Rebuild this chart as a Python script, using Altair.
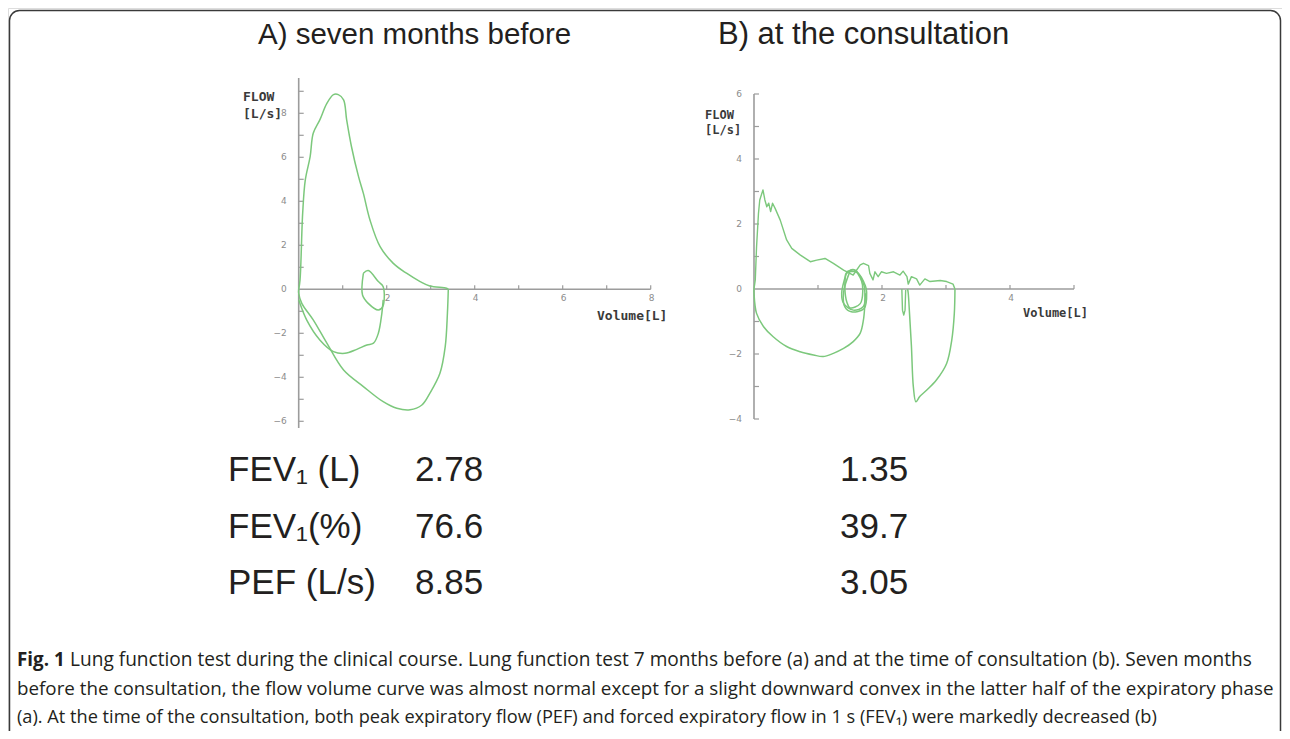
import altair as alt
import pandas as pd

GREEN = "#7cc87c"
AXIS = "#9c9c9c"
TICKLAB = "#8c8c8c"
INK = "#231f20"

# ---------------- Panel A : seven months before ----------------
A_EXP_VOL = [0, 0.03, 0.09, 0.15, 0.26, 0.33, 0.48, 0.64, 0.79, 0.90, 1.02, 1.09, 1.20, 1.36, 1.47, 1.62, 1.85, 2.15, 2.45, 2.76, 2.98, 3.36, 3.40]
A_EXP_FLOW = [0, 0.42, 3.45, 4.97, 6.03, 7.09, 7.70, 8.45, 8.85, 8.85, 8.61, 7.70, 6.48, 5.12, 4.36, 3.15, 1.94, 1.18, 0.73, 0.35, 0.15, 0.05, 0]
A_INSP_VOL = [3.40, 3.38, 3.33, 3.21, 2.98, 2.80, 2.53, 2.23, 1.92, 1.47, 1.02, 0.64, 0.33, 0.07, 0, 0]
A_INSP_FLOW = [0, -1.09, -2.61, -3.82, -4.73, -5.26, -5.48, -5.41, -5.11, -4.42, -3.67, -2.45, -1.39, -0.64, -0.18, 0]
A_PRE_VOL = [0, 0.18, 0.48, 0.79, 1.05, 1.32, 1.55, 1.70, 1.81, 1.89, 1.92]
A_PRE_FLOW = [-0.48, -1.39, -2.30, -2.83, -2.91, -2.73, -2.53, -2.45, -2.00, -1.09, -0.48]
A_TIDAL_VOL = [1.47, 1.58, 1.81, 1.92, 1.91, 1.81, 1.58, 1.45, 1.47]
A_TIDAL_FLOW = [0.73, 0.85, 0.35, 0.12, -0.79, -0.94, -0.64, -0.26, 0.73]

A_XTICKS = [1, 2, 3, 4, 5, 6, 7, 8]
A_XLABELS = [2, 4, 6, 8]
A_YTICKS = [-6, -5, -4, -3, -2, -1, 1, 2, 3, 4, 5, 6, 7, 8, 9]
A_YLABELS = [-6, -4, -2, 0, 2, 4, 6, 8]

# ---------------- Panel B : at the consultation ----------------
B_EXP_VOL = [0, 0.02, 0.04, 0.07, 0.09, 0.14, 0.17, 0.20, 0.23, 0.26, 0.29, 0.33, 0.41, 0.51, 0.59, 0.72, 0.88, 0.98, 1.11, 1.24, 1.40, 1.55,
             1.66, 1.71, 1.79, 1.81, 1.86, 1.89, 1.94, 1.99, 2.07, 2.18, 2.28, 2.33, 2.39, 2.41, 2.46, 2.54, 2.59, 2.67, 2.75, 2.91, 3.01, 3.11, 3.14]
B_EXP_FLOW = [0, 0.28, 1.30, 2.33, 2.74, 3.05, 2.74, 2.53, 2.64, 2.38, 2.64, 2.48, 2.12, 1.51, 1.25, 1.05, 0.84, 0.89, 0.94, 0.79, 0.58, 0.43,
              0.74, 0.79, 0.72, 0.48, 0.28, 0.53, 0.38, 0.53, 0.48, 0.53, 0.43, 0.55, 0.38, 0.15, 0.38, 0.31, 0.12, 0.31, 0.23, 0.26, 0.23, 0.15, 0]
B_INSP_VOL = [3.14, 3.13, 3.09, 3.01, 2.85, 2.70, 2.59, 2.53, 2.49, 2.46, 2.43, 2.41, 2.40]
B_INSP_FLOW = [0, -0.75, -1.57, -2.29, -2.80, -3.11, -3.31, -3.47, -3.01, -1.77, -0.75, -0.13, 0]
B_DIP_VOL = [2.31, 2.32, 2.34, 2.36, 2.37]
B_DIP_FLOW = [0, -0.65, -0.80, -0.65, -0.03]
B_PRE_VOL = [0, 0, 0.04, 0.15, 0.30, 0.51, 0.72, 0.93, 1.08, 1.24, 1.40, 1.55, 1.66, 1.71, 1.73, 1.74]
B_PRE_FLOW = [0, -0.13, -0.75, -1.16, -1.47, -1.77, -1.93, -2.03, -2.08, -1.98, -1.83, -1.62, -1.36, -0.95, -0.54, -0.13]
B_TIDAL1_VOL = [1.45, 1.58, 1.71, 1.73, 1.71, 1.55, 1.40, 1.37, 1.45]
B_TIDAL1_FLOW = [0.53, 0.58, 0.17, -0.03, -0.54, -0.65, -0.44, -0.13, 0.53]
B_TIDAL2_VOL = [1.50, 1.62, 1.74, 1.76, 1.72, 1.52, 1.42, 1.40, 1.50]
B_TIDAL2_FLOW = [0.55, 0.50, 0.10, -0.10, -0.60, -0.70, -0.55, -0.10, 0.55]
B_TIDAL3_VOL = [1.43, 1.55, 1.68, 1.70, 1.66, 1.50, 1.45, 1.42, 1.43]
B_TIDAL3_FLOW = [0.45, 0.60, 0.25, -0.05, -0.45, -0.58, -0.40, 0.00, 0.45]

B_XTICKS = [1, 2, 3, 4, 5]
B_XLABELS = [2, 4]
B_YTICKS = [-4, -3, -2, -1, 1, 2, 3, 4, 5, 6]
B_YLABELS = [-4, -2, 0, 2, 4, 6]

# ---------------- Table ----------------
METRICS = ["FEV\u2081 (L)", "FEV\u2081(%)", "PEF (L/s)"]
BEFORE = [2.78, 76.6, 8.85]
AT_CONSULT = [1.35, 39.7, 3.05]

TITLE_A = "A) seven months before"
TITLE_B = "B) at the consultation"

CAPTION_1 = ("Lung function test during the clinical course. Lung function test 7 months before (a) "
             "and at the time of consultation (b). Seven months")
CAPTION_2 = ("before the consultation, the flow volume curve was almost normal except for a slight downward "
             "convex in the latter half of the expiratory phase")
CAPTION_3 = ("(a). At the time of the consultation, both peak expiratory flow (PEF) and forced expiratory "
             "flow in 1 s (FEV\u2081) were markedly decreased (b)")


def segs(*pairs):
    rows = []
    for s, (vx, vy) in enumerate(pairs):
        for i, (a, b) in enumerate(zip(vx, vy)):
            rows.append({"seg": s, "i": i, "vol": a, "flow": b})
    return pd.DataFrame(rows)


def panel(df_smooth, df_lin, xdom, ydom, xr, yr, xticks, xlabels, yticks, ylabels, fsize):
    xs = alt.Scale(domain=xdom, range=xr, nice=False, zero=False)
    ys = alt.Scale(domain=ydom, range=yr, nice=False, zero=False)
    ax = alt.Chart(pd.DataFrame({"x0": [xdom[0]], "x1": [xdom[1]], "y0": [0]})).mark_rule(
        color=AXIS, strokeWidth=1.6).encode(
        x=alt.X("x0:Q", scale=xs, axis=None), x2="x1:Q", y=alt.Y("y0:Q", scale=ys, axis=None))
    ay = alt.Chart(pd.DataFrame({"x0": [0], "y0": [ydom[0]], "y1": [ydom[1]]})).mark_rule(
        color=AXIS, strokeWidth=1.6).encode(
        x=alt.X("x0:Q", scale=xs, axis=None), y=alt.Y("y0:Q", scale=ys, axis=None), y2="y1:Q")
    xt = alt.Chart(pd.DataFrame({"t": xticks, "z": [0] * len(xticks)})).mark_rule(
        color=AXIS, strokeWidth=1.2, y2Offset=-4).encode(
        x=alt.X("t:Q", scale=xs, axis=None), y=alt.Y("z:Q", scale=ys, axis=None), y2="z:Q")
    yt = alt.Chart(pd.DataFrame({"t": yticks, "z": [0] * len(yticks)})).mark_rule(
        color=AXIS, strokeWidth=1.2, x2Offset=5).encode(
        y=alt.Y("t:Q", scale=ys, axis=None), x=alt.X("z:Q", scale=xs, axis=None), x2="z:Q")
    xl = alt.Chart(pd.DataFrame({"t": xlabels, "z": [0] * len(xlabels)})).mark_text(
        color=TICKLAB, fontSize=fsize, font="DejaVu Sans", dy=9, dx=1, baseline="middle").encode(
        x=alt.X("t:Q", scale=xs, axis=None), y=alt.Y("z:Q", scale=ys, axis=None), text="t:Q")
    yl = alt.Chart(pd.DataFrame({"t": ylabels, "z": [0] * len(ylabels)})).mark_text(
        color=TICKLAB, fontSize=fsize, font="DejaVu Sans", dx=-12, align="right", baseline="middle").encode(
        y=alt.Y("t:Q", scale=ys, axis=None), x=alt.X("z:Q", scale=xs, axis=None), text="t:Q")
    smooth = alt.Chart(df_smooth).mark_line(color=GREEN, strokeWidth=1.5, strokeJoin="round",
                                            interpolate="catmull-rom").encode(
        x=alt.X("vol:Q", scale=xs, axis=None), y=alt.Y("flow:Q", scale=ys, axis=None),
        detail="seg:N", order="i:Q")
    layers = [ax, ay, xt, yt, xl, yl, smooth]
    if df_lin is not None:
        lin = alt.Chart(df_lin).mark_line(color=GREEN, strokeWidth=1.4, strokeJoin="round").encode(
            x=alt.X("vol:Q", scale=xs, axis=None), y=alt.Y("flow:Q", scale=ys, axis=None),
            detail="seg:N", order="i:Q")
        layers.append(lin)
    return alt.layer(*layers)


one = pd.DataFrame({"a": [0]})


def txt(s, x, y, size, font, weight="normal", color=INK, align="left"):
    return alt.Chart(one).mark_text(
        font=font, fontSize=size, fontWeight=weight, color=color, align=align, baseline="middle"
    ).encode(x=alt.value(x), y=alt.value(y), text=alt.value(s))


dfA = segs((A_EXP_VOL, A_EXP_FLOW), (A_INSP_VOL, A_INSP_FLOW), (A_PRE_VOL, A_PRE_FLOW), (A_TIDAL_VOL, A_TIDAL_FLOW))
dfB_smooth = segs((B_INSP_VOL, B_INSP_FLOW), (B_PRE_VOL, B_PRE_FLOW),
                  (B_TIDAL1_VOL, B_TIDAL1_FLOW), (B_TIDAL2_VOL, B_TIDAL2_FLOW), (B_TIDAL3_VOL, B_TIDAL3_FLOW))
dfB_lin = segs((B_EXP_VOL, B_EXP_FLOW), (B_DIP_VOL, B_DIP_FLOW))

panelA = panel(dfA, None, [0, 8], [-6.3, 9.6], [290.7, 642.7], [419.9, 70.1],
               A_XTICKS, A_XLABELS, A_YTICKS, A_YLABELS, 9)
panelB = panel(dfB_smooth, dfB_lin, [0, 5], [-4, 6], [746, 1066], [411, 86],
               B_XTICKS, B_XLABELS, B_YTICKS, B_YLABELS, 9)

# table
tdf = pd.DataFrame({"metric": METRICS, "before": BEFORE, "at": AT_CONSULT})
ty = alt.Scale(type="point", domain=METRICS, range=[462, 575], padding=0)
TFONT = "Liberation Sans, Arial, Helvetica, sans-serif"
TS = 35
tlab = alt.Chart(tdf).mark_text(font=TFONT, fontSize=TS, color=INK, align="left", baseline="middle").encode(
    x=alt.value(220), y=alt.Y("metric:N", scale=ty, axis=None), text="metric:N")
tA = alt.Chart(tdf).mark_text(font=TFONT, fontSize=TS, color=INK, align="left", baseline="middle").encode(
    x=alt.value(407), y=alt.Y("metric:N", scale=ty, axis=None), text="before:Q")
tB = alt.Chart(tdf).mark_text(font=TFONT, fontSize=TS, color=INK, align="left", baseline="middle").encode(
    x=alt.value(832), y=alt.Y("metric:N", scale=ty, axis=None), text="at:Q")
table = alt.layer(tlab, tA, tB)

TITLEFONT = "Liberation Sans, Arial, sans-serif"
MONO = "DejaVu Sans Mono, monospace"
CAP = "Open Sans, Noto Sans, sans-serif"
texts = [
    txt(TITLE_A, 250, 27, 29.5, TITLEFONT),
    txt(TITLE_B, 710, 27, 31, TITLEFONT),
    txt("FLOW", 235, 89, 13, MONO, "bold", "#3a3a3a"),
    txt("[L/s]", 235, 106, 13, MONO, "bold", "#3a3a3a"),
    txt("Volume[L]", 589, 308, 13, MONO, "bold", "#3a3a3a"),
    txt("FLOW", 697, 107, 12, MONO, "bold", "#3a3a3a"),
    txt("[L/s]", 697, 122, 12, MONO, "bold", "#3a3a3a"),
    txt("Volume[L]", 1015, 305, 12, MONO, "bold", "#3a3a3a"),
    txt("Fig. 1", 9, 652, 18.8, CAP, "bold"),
    txt(CAPTION_1, 62, 652, 19.1, CAP),
    txt(CAPTION_2, 9, 681, 18.8, CAP),
    txt(CAPTION_3, 9, 710, 18.2, CAP),
]

frame = alt.Chart(one).mark_rect(filled=False, stroke="#3a3a3a", strokeWidth=1.5, cornerRadius=10).encode(
    x=alt.value(1.5), x2=alt.value(1272.5), y=alt.value(2.5), y2=alt.value(780))

chart = alt.layer(frame, panelA, panelB, table, *texts).resolve_scale(
    x="independent", y="independent"
).properties(
    width=1274, height=723, padding=0, autosize=alt.AutoSizeParams(type="none")
).configure_view(stroke=None).configure(background="white")

chart.save("out.html", embed_options={"renderer": "svg", "actions": False})
